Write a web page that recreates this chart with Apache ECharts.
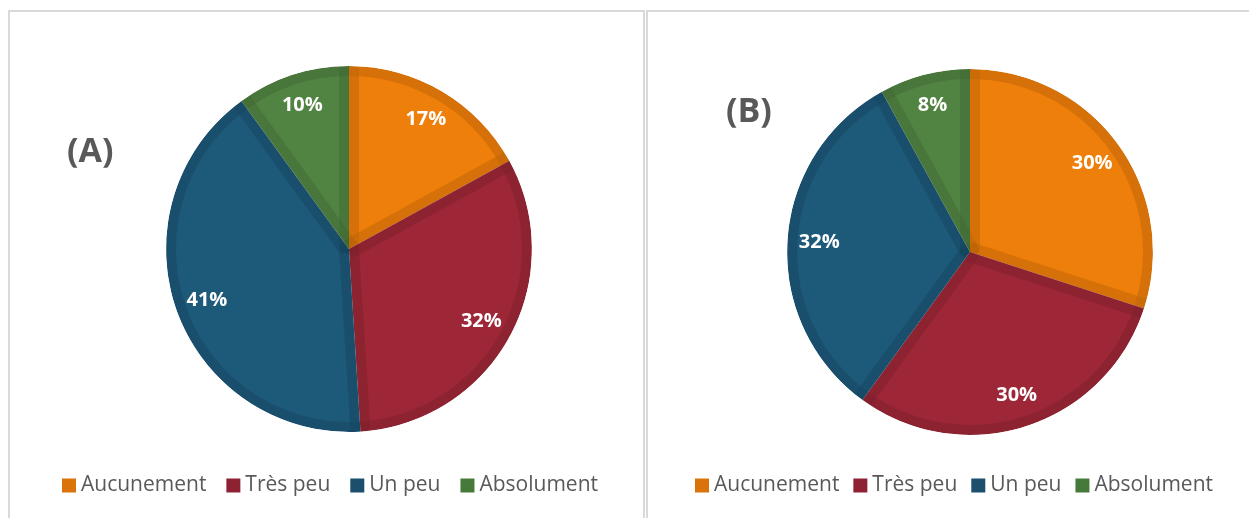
<!DOCTYPE html>
<html>
<head>
<meta charset="utf-8">
<script src="https://cdn.jsdelivr.net/npm/echarts@6/dist/echarts.min.js"></script>
<style>
html, body { margin: 0; padding: 0; background: #fff; overflow: hidden; }
.panel { position: absolute; box-sizing: border-box; border: 2px solid #d9d9d9; }
#panelA { left: 8px; top: 10px; width: 637px; height: 540px; }
#panelB { left: 646px; top: 10px; width: 640px; height: 540px; }
#chart { position: absolute; left: 0; top: 0; width: 1249px; height: 518px; }
</style>
</head>
<body>
<div class="panel" id="panelA"></div>
<div class="panel" id="panelB"></div>
<div id="chart"></div>
<script>
// catégories et valeurs (%)
var categories = ["Aucunement", "Très peu", "Un peu", "Absolument"];
var valuesA = [17, 32, 41, 10];
var valuesB = [30, 30, 32, 8];

var fillColors = ["#ee7f0a", "#9d2737", "#1d5979", "#518443"];
var legendColors = ["#d9730a", "#8e2232", "#1b4f6d", "#467a3a"];
var shade = "rgba(0,0,0,0.052)";
var R = 183;

function items(values, colors) {
  return categories.map(function (name, i) {
    var d = { name: name, value: values[i] };
    if (colors) d.itemStyle = { color: colors[i] };
    return d;
  });
}

function basePie(values, center, radius) {
  return {
    type: "pie",
    center: center,
    radius: radius,
    startAngle: 90,
    clockwise: true,
    silent: true,
    legendHoverLink: false,
    label: { show: false },
    labelLine: { show: false },
    data: items(values)
  };
}

// une part = remplissage + bord intérieur plus foncé (trait semi-transparent)
function pieLayers(values, center) {
  var fill = basePie(values, center, R);
  fill.data = items(values, fillColors);
  fill.itemStyle = { borderWidth: 0 };

  var edges = basePie(values, center, R);
  edges.itemStyle = { color: "transparent", borderColor: shade, borderWidth: 20, borderJoin: "bevel" };

  var rim = basePie(values, center, [R - 10, R]);
  rim.itemStyle = { color: shade, borderWidth: 0 };

  var cover = basePie(values, center, [R, R + 24]);
  cover.itemStyle = { color: "#ffffff", borderWidth: 0 };

  var labels = basePie(values, center, [113, R]);
  labels.itemStyle = { color: "transparent", borderWidth: 0 };
  labels.label = {
    show: true,
    position: "inside",
    formatter: "{c}%",
    color: "#ffffff",
    fontFamily: "Open Sans",
    fontWeight: "bold",
    fontSize: 20,
    textBorderWidth: 0
  };
  return [fill, edges, rim, cover, labels];
}

function legend(left, gap) {
  return {
    left: left,
    top: 475,
    padding: 0,
    itemWidth: 14,
    itemHeight: 14,
    itemGap: gap,
    icon: "rect",
    selectedMode: false,
    textStyle: { color: "#595959", fontFamily: "Open Sans", fontSize: 21 },
    data: categories.map(function (name, i) {
      return { name: name, itemStyle: { color: legendColors[i], borderWidth: 0 } };
    })
  };
}

var chart = echarts.init(document.getElementById("chart"));
chart.setOption({
  animation: false,
  title: [
    {
      text: "(A)", left: 67, top: 133, padding: 0,
      textStyle: { color: "#595959", fontFamily: "Open Sans", fontWeight: "bold", fontSize: 34, lineHeight: 39 }
    },
    {
      text: "(B)", left: 726, top: 93, padding: 0,
      textStyle: { color: "#595959", fontFamily: "Open Sans", fontWeight: "bold", fontSize: 34, lineHeight: 39 }
    }
  ],
  legend: [legend(62, 20), legend(695, 14)],
  series: pieLayers(valuesA, [349, 249]).concat(pieLayers(valuesB, [970, 252]))
});
</script>
</body>
</html>
